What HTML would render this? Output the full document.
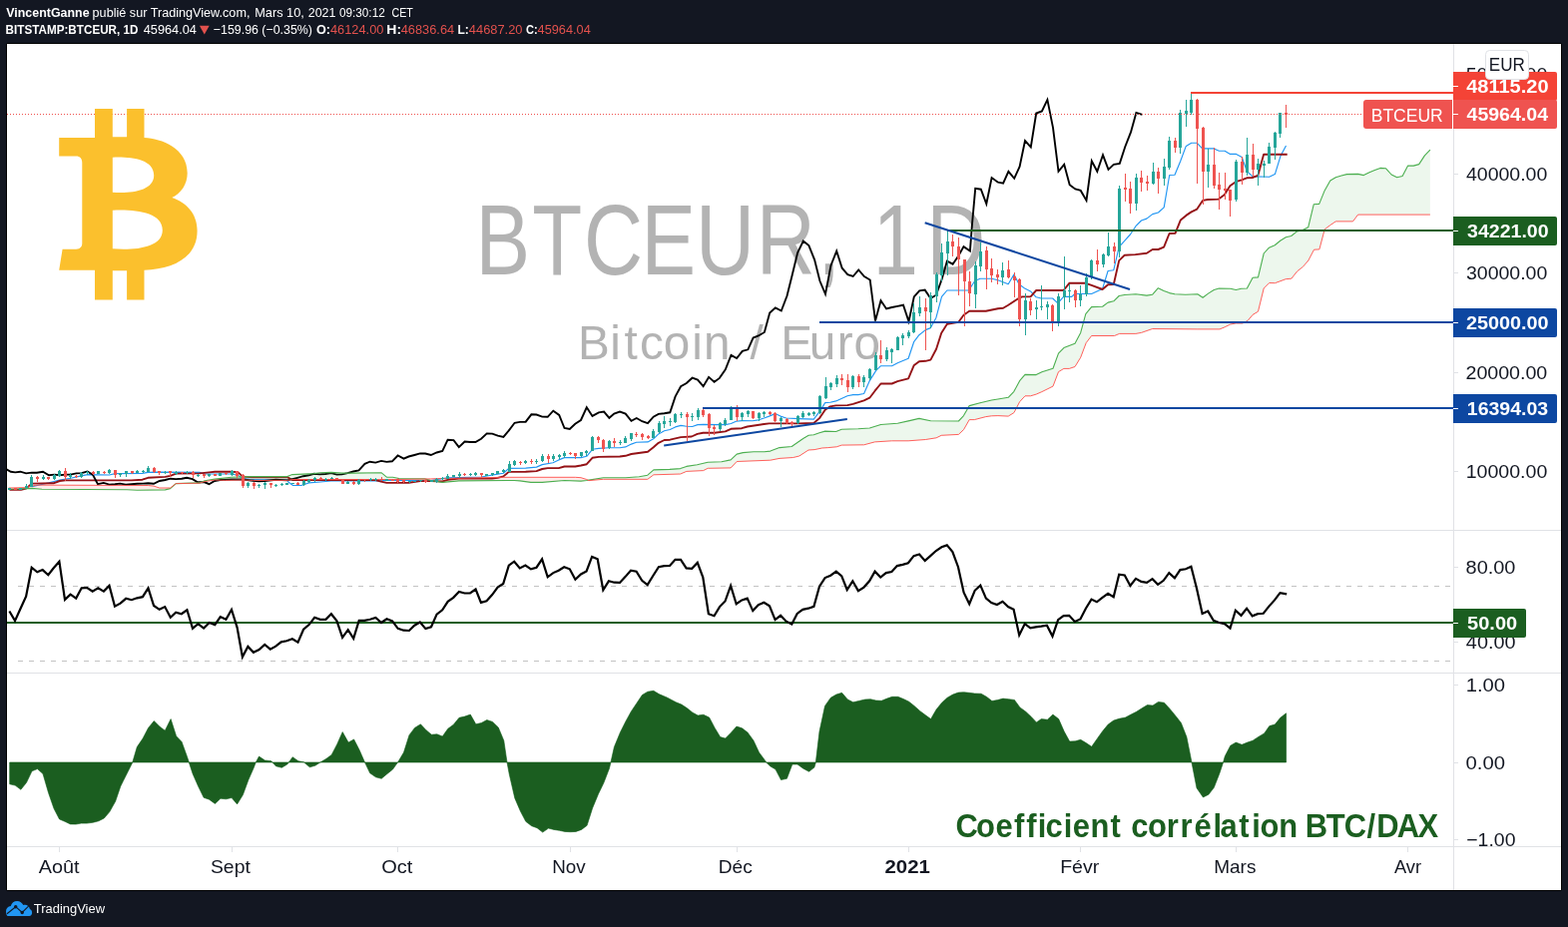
<!DOCTYPE html>
<html lang="fr">
<head>
<meta charset="utf-8">
<title>BTCEUR 1D - TradingView</title>
<style>html,body{margin:0;padding:0;background:#131722;overflow:hidden}svg{display:block}</style>
</head>
<body>
<svg width="1571" height="929" viewBox="0 0 1571 929" font-family="'Liberation Sans', sans-serif">
<defs><clipPath id="cm"><rect x="7" y="44" width="1449" height="487"/></clipPath><clipPath id="cr"><rect x="7" y="532" width="1449" height="142"/></clipPath><clipPath id="cc"><rect x="7" y="675" width="1449" height="173"/></clipPath><clipPath id="ca"><rect x="1457" y="44" width="107" height="804"/></clipPath></defs>
<rect width="1571" height="929" fill="#131722"/>
<rect x="6" y="43" width="1559" height="850" rx="2" fill="#000"/>
<rect x="7" y="44" width="1557" height="848" fill="#fff"/>
<g clip-path="url(#cm)">
<text transform="scale(0.8219,1)" x="579.9 648.9 711.9 781.7 848.0 922.1 996.7 1018.9 1063.9 1129.3" y="274.6" font-size="99.5" fill="#b3b3b3">BTCEUR, 1D</text>
<text transform="scale(0.9727,1)" x="595.2 628.5 643.1 659.0 683.4 712.8 724.8 748.9 772.7 787.2 804.1 833.6 862.2 879.4" y="359.7" font-size="49" fill="#b3b3b3">Bitcoin / Euro</text>
<polyline fill="none" stroke="#2196f3" stroke-width="1.15" stroke-linejoin="round" points="31.8,487.7 49,483.9 59.8,481 70.7,479.2 81.5,476.9 87.8,475.6 109.5,476 115.2,474.6 142.6,474.4 148.3,473.4 159.1,473.1 199.9,473.4 205.1,475 231.8,475 238.2,476.3 243.3,479.5 253.5,480.5 287.8,480.7 289.1,483.3 293.6,486.5 301.8,486.5 309.5,483.9 320.9,483 331.8,482 342.6,482 378.2,482 387.1,481.4 399.9,481.4 421,481.5 431.8,481.5 443.3,479.6 448.6,478.9 482.1,478 487.8,477 498.7,475.1 504.4,474.2 509.7,469.4 526.7,469.1 537.5,468.1 543.2,465.6 554,463.7 559.8,460.9 565.5,458.6 582,458.6 587.8,457.3 593.5,450.3 599.9,449.4 610.2,448.7 621,448.7 626.7,447.9 632.5,445.1 637.6,443.2 649,442.9 654.7,439.8 659.8,434.9 665.6,431.7 671.3,430.5 676.6,427.9 682.1,426.4 687.8,427.3 693.6,427.5 699,425.6 704.6,425.4 720.9,425.6 726.7,425.6 732.4,424.5 737.5,422.2 743.2,421.6 754,421.8 759.8,420.9 765.5,419 770.6,417.1 776.6,414.6 782,417.1 787.7,419 799.9,419.6 815.3,420.1 821,412.7 826.7,403.6 831.8,403.2 837.6,401.9 849,396.8 854.7,395.6 859.8,395.6 865.6,394.5 871.3,381.6 877.7,371.4 882.5,366.7 893.6,366.7 899.3,363.7 910.1,359.3 915.6,342.7 920.9,335.7 927.3,330.6 932.4,328.6 937.9,318.4 943.5,297.4 948.9,291 970.6,291 976.7,281.5 982,279.2 993.5,279.2 999.9,280.8 1010.2,284.7 1015.9,275.1 1021,284.7 1026.7,289.1 1032.5,291.9 1038.2,297.8 1043.3,299 1054.7,299 1059.8,303.8 1065.6,297.4 1073.8,297.4 1076.8,294.5 1093.6,294.5 1104.6,289.4 1110.1,271.5 1115.8,270.7 1121.2,247.4 1126.7,241.4 1132.4,235 1137.9,226.7 1143.5,221 1148.9,219.1 1154.7,214.6 1160.5,213 1166.2,207.9 1171.7,175.5 1177,175.2 1182.7,161.5 1188.3,146.4 1193.7,143.2 1199.1,143.2 1204.6,148.9 1216.3,148.9 1221.4,151.2 1227.1,151.2 1232.5,154.4 1238.6,154.4 1244.3,157.6 1249.4,171.8 1255.1,176.9 1271.7,177.3 1277.4,174.6 1282.9,156.6 1288.5,146"/>
<polyline fill="none" stroke="#941216" stroke-width="1.9" stroke-linejoin="round" points="9.5,490.9 21,490.9 26.1,489.6 31.8,484.6 53.5,484.3 59.8,482 65.6,481.4 131.8,481.4 142.6,480.7 148.3,478.8 165.5,477.9 170.6,476.9 176.3,474.6 199.9,474.4 209.5,473.4 215.3,472.8 231.8,472.8 238.2,473.1 243.3,477.6 253.5,478.2 287.8,478.2 292.9,481 376.3,481 381.8,482.6 387.4,483.9 399.9,483.9 409.5,483.8 421,482.1 431.8,482.1 443.3,482.5 448.6,480.8 459.8,479.6 492.9,479.6 498.7,478.9 504.4,477.4 509.7,472.9 526.7,472.8 537.5,472.1 543.2,470 548.7,469.1 559.8,469.1 565.5,467.5 576.3,467.5 582,466.5 587.8,465.2 593.5,458.8 599.9,457.9 621,457.5 626.7,456.8 632.5,455 649,452.7 654.7,448.3 659.8,443.8 665.6,441 671.3,440.7 682.1,438.1 692.9,437.5 698.7,434.9 704.4,433.7 715.8,433.7 726.7,432.4 732.4,429.8 743.2,429.2 748.9,427.5 765.5,425 770.6,424.4 799.9,424.4 815.3,424 821,419.1 826.7,410.8 831.8,407.4 837.6,406.4 849,406.1 854.7,404.9 865.6,401.3 871.3,398.7 876.6,391.7 882.5,384.5 893.6,384.5 899.3,382.2 910.1,379.4 915.6,366.3 920.9,362.2 927.3,361.8 932.4,360.6 938.1,349.7 943.2,333.8 948.9,324.8 960.4,322.8 965.5,315.8 971.2,311.8 987.8,311.8 999.9,309.2 1005.1,308.8 1010.2,305.7 1021,298.7 1024.2,297.4 1032.5,297.4 1038.2,291 1065.6,291 1071.3,283.8 1087.8,283.8 1093.6,285.9 1104.6,290 1110.1,285.3 1115.8,285 1121.2,261.1 1126.7,255.8 1137.5,255.1 1148.9,253.8 1154.7,250 1160.4,250 1166.1,247.7 1171.6,234 1177.6,233.7 1182.9,220.4 1188.4,215.9 1193.6,212.4 1199.3,209.6 1205,200.9 1210.1,200 1220.9,199.6 1226.7,195.2 1232.4,186.3 1238.1,182.2 1243.9,180.3 1249.2,178.3 1254.7,178 1260.4,175.8 1266.1,154.8 1289.7,154.8"/>
<polyline fill="none" stroke="#000" stroke-width="1.9" stroke-linejoin="miter" points="6.4,470.3 10.8,472.8 15.3,473.4 20.4,472.7 26.1,474.4 31.8,473.6 36.9,473.7 43,472.8 49,476.3 54.7,475.6 59.8,476.3 65.6,475.6 70.7,475.6 76.4,474.4 81.5,474.1 87.6,472.5 92.9,475.6 98,485.2 103.8,483.9 109.5,485.6 115.2,485.2 120.3,484.6 126,485.6 131.8,485.2 137.5,484.8 143.2,484.6 148.3,484.3 154,484.8 159.8,482 165.5,481 170.6,479.7 176.3,480.1 182,479.8 187.1,478.8 192.9,480.1 198,483.3 205.1,483.3 209.5,485.2 215,482 220.4,481 231.8,480.5 243.3,480.5 253.5,481.8 259.2,482.4 264.9,482 276.4,480.7 287.8,481.4 292.9,480.1 298,478.8 303.8,477.2 309.5,476.3 314.6,474.8 320.3,475.4 326,475 331.8,474.1 337.5,475.6 342.6,475.4 348.3,474.1 354,472.5 359.5,471.4 365.5,464.8 370.6,462.7 376.3,463.6 382,461.9 387.4,462.9 392.9,462.3 398.6,456.5 404.5,459.6 409.5,457.5 415.3,456 421,454.4 426.1,454.5 431.8,456 437.6,453.5 443.3,451.9 448.6,440.7 454.5,441.1 459.8,448.1 465.6,442.6 471,443 476.4,443 482.1,439.7 487.8,434.4 493.2,434.6 498.7,436.7 504.4,437.9 509.7,431.6 515.6,423.8 520.9,422.9 526.7,422.7 532.4,415.3 537.5,415.5 543.2,417.6 548.7,417.8 554.3,411.7 560.2,415.9 565.5,429 570.8,429.9 576.3,424.8 582,421 587.8,408.3 593.5,416.9 599.9,413.4 605.1,412.6 610.4,418.8 615.3,414.6 621,412.6 626.7,414.6 632.5,421.8 637.8,419 643.3,422.2 649,424.1 654.7,417.7 659.8,414.9 665.6,414.2 671.3,413.3 676.6,397.4 682.1,387.2 687.8,384 693.6,378.7 699,380.6 704.6,387.2 710.1,377.9 715.6,382.7 720.9,378.9 726.8,370.4 732.5,355.9 738.1,359.1 743.8,351.9 749.4,350.3 754.6,338.5 759.9,336.5 765.9,333 771.2,313.6 776.9,308.3 782.8,311.5 788.5,296.5 793.8,275.2 799.1,253.4 804.8,241.6 810.4,246.1 816.1,260.3 821.4,281.5 827,294.8 832.5,265.9 838.2,251.6 843.7,268.7 849.3,275.1 854.7,277 860.2,270.4 865.9,277 871.7,280.5 877,321.6 882.5,301.2 888.1,309.5 893.6,308 899.3,306.9 905,305.7 910.5,322.2 915.8,297.4 921.2,291.4 926.7,290.6 932.4,299 937.9,295.7 943.5,280.2 948.9,261.7 954.6,264.7 960.2,256.6 965.5,247.1 971.9,251.6 973.8,226.7 977.2,188.9 982.8,189.7 988.3,204.3 993.6,178.1 999.6,182.5 1000,182.7 1005.1,183.7 1010.4,171.8 1016.2,178.8 1021.6,167 1027,141 1032.8,147.3 1038.2,113.5 1043.9,111.4 1049.4,99.9 1055,127.9 1060.5,171.8 1066.2,164.8 1071.7,185.2 1077.3,189.4 1082.7,190.9 1088.5,200.9 1093.8,161.4 1099.3,171.8 1105,155.3 1110.5,169.9 1115.8,164.8 1121.8,163.9 1127.3,147 1133,132.4 1138.4,113 1144.5,114.9"/>
<path fill="#4caf50" fill-opacity="0.1" d="M176.7,484.5L178.7,484.5L180.7,484.4L182.7,484.4L184.7,484.3L186.7,484.3L188.7,484.2L190.7,484.2L192.7,484.1L194.7,484.1L196.7,484L198.7,484L200.7,483.6L202.7,482.7L204.7,481.9L206.7,481.5L208.7,481.2L210.7,480.8L212.7,480.5L214.7,480.2L216.7,479.9L218.7,479.7L220.7,479.5L222.7,479.2L224.7,479L226.7,478.8L228.7,478.6L230.7,478.3L232.7,478.2L234.7,478.1L236.7,478.1L238.7,478L240.7,478L242.7,478L244.7,477.9L246.7,477.8L248.7,477.7L250.7,477.7L252.7,477.6L254.7,477.6L256.7,477.6L258.7,477.6L260.7,477.6L262.7,477.6L264.7,477.6L266.7,477.6L268.7,477.6L270.7,477.6L272.7,477.6L274.7,477.6L276.7,477.6L278.7,477.6L280.7,477.6L282.7,477.6L284.7,477.6L286.7,477.6L288.7,477.2L290.7,476.5L292.7,475.7L294.7,475.6L296.7,475.5L298.7,475.4L300.7,475.3L302.7,475.2L304.7,475.1L306.7,475L308.7,474.9L310.7,474.8L312.7,474.7L314.7,474.6L316.7,474.3L318.7,474.1L320.7,473.8L322.7,473.7L324.7,473.6L326.7,473.5L328.7,473.5L330.7,473.4L332.7,473.4L334.7,473.6L336.7,473.7L338.7,473.8L340.7,474L342.7,474.1L344.7,474.1L346.7,474.1L348.7,474.1L350.7,474.1L352.7,474.1L354.7,474.1L356.7,474.1L358.7,474.1L360.7,474L362.7,474L364.7,474L366.7,473.9L368.7,473.9L370.7,473.9L372.7,473.9L374.7,473.8L376.7,473.8L378.7,473.8L380.7,473.8L382.7,474.3L384.7,475.9L386.7,477.6L388.7,478.2L390.7,478.2L392.7,478.2L394.7,478.4L396.7,478.8L398.7,479.2L400.7,479.5L402.7,479.5L404.7,479.6L406.7,479.6L408.7,479.6L410.7,479.7L412.7,479.7L414.7,479.7L416.7,479.8L418.7,479.8L420.7,479.9L422.7,479.9L424.7,479.9L424.7,480.1L422.7,480.1L420.7,480.1L418.7,480.2L416.7,480.2L414.7,480.2L412.7,480.3L410.7,480.3L408.7,480.3L406.7,480.4L404.7,480.4L402.7,480.4L400.7,480.5L398.7,480.5L396.7,480.5L394.7,480.5L392.7,480.5L390.7,480.5L388.7,480.5L386.7,480.5L384.7,480.5L382.7,480.5L380.7,480.5L378.7,480.5L376.7,480.5L374.7,480.5L372.7,480.5L370.7,480.5L368.7,480.5L366.7,480.5L364.7,480.5L362.7,480.5L360.7,480.5L358.7,480.5L356.7,480.5L354.7,480.5L352.7,480.5L350.7,480.5L348.7,480.5L346.7,480.5L344.7,480.5L342.7,480.5L340.7,480.5L338.7,480.5L336.7,480.5L334.7,480.5L332.7,480.5L330.7,480.5L328.7,480.5L326.7,480.5L324.7,480.5L322.7,480.5L320.7,480.5L318.7,480.5L316.7,480.5L314.7,480.5L312.7,480.5L310.7,480.5L308.7,480.5L306.7,480.5L304.7,480.5L302.7,480.5L300.7,480.5L298.7,480.5L296.7,480.5L294.7,480.5L292.7,480.5L290.7,480.9L288.7,481.2L286.7,481.4L284.7,481.4L282.7,481.4L280.7,481.4L278.7,481.4L276.7,481.4L274.7,481.4L272.7,481.4L270.7,481.4L268.7,481.4L266.7,481.4L264.7,481.4L262.7,481.4L260.7,481.4L258.7,481.4L256.7,481.4L254.7,481.4L252.7,481.3L250.7,481.3L248.7,481.2L246.7,481.1L244.7,481L242.7,481L240.7,481L238.7,481.1L236.7,481.1L234.7,481.2L232.7,481.2L230.7,481.3L228.7,481.3L226.7,481.3L224.7,481.3L222.7,481.3L220.7,481.2L218.7,481.1L216.7,481L214.7,481.1L212.7,481.4L210.7,481.7L208.7,482.1L206.7,482.4L204.7,482.8L202.7,483.3L200.7,483.9L198.7,484.2L196.7,484.2L194.7,484.3L192.7,484.3L190.7,484.3L188.7,484.4L186.7,484.4L184.7,484.4L182.7,484.5L180.7,484.5L178.7,484.5L176.7,484.6ZM588.7,481.3L590.7,481L592.7,480.7L594.7,480.4L596.7,480L598.7,479.7L600.7,479.4L602.7,479.1L604.7,478.8L606.7,478.8L608.7,478.8L610.7,478.8L612.7,478.8L614.7,478.8L616.7,478.8L618.7,478.8L620.7,478.8L622.7,478.8L624.7,478.8L626.7,478.8L628.7,478.7L630.7,478.5L632.7,478.3L634.7,478.2L636.7,478L638.7,477.9L640.7,477.7L642.7,477.3L644.7,477L646.7,476.6L648.7,476.2L650.7,474.6L652.7,472.8L654.7,471.1L656.7,470.8L658.7,470.8L660.7,470.7L662.7,470.6L664.7,470.6L666.7,470.5L668.7,470.5L670.7,470.4L672.7,470.3L674.7,470.1L676.7,470L678.7,469.9L680.7,469.7L682.7,469.3L684.7,468.5L686.7,467.8L688.7,467.2L690.7,466.9L692.7,466.7L694.7,466.4L696.7,466.1L698.7,465.8L700.7,465.3L702.7,464.8L704.7,464.3L706.7,463.8L708.7,463.3L710.7,463.2L712.7,463.1L714.7,463L716.7,463L718.7,462.9L720.7,462.8L722.7,462.8L724.7,462.4L726.7,462L728.7,461.6L730.7,461.2L732.7,460.3L734.7,458.4L736.7,456.5L738.7,455L740.7,454.5L742.7,454L744.7,453.6L746.7,453.4L748.7,453.3L750.7,453.2L752.7,453L754.7,452.9L756.7,452.8L758.7,452.8L760.7,452.8L762.7,452.8L764.7,452.8L766.7,452.7L768.7,452.5L770.7,452.2L772.7,451.7L774.7,451L776.7,450.2L778.7,449.4L780.7,448.7L782.7,448.4L784.7,448.2L786.7,448.1L788.7,447.9L790.7,447.7L792.7,447.5L794.7,446.4L796.7,445L798.7,443.6L800.7,442.2L802.7,440.8L804.7,439.5L806.7,438.3L808.7,437.2L810.7,436.2L812.7,436L814.7,435.7L816.7,435.2L818.7,434.5L820.7,433.9L822.7,433.3L824.7,432.7L826.7,432.1L828.7,432.2L830.7,432.2L832.7,432.3L834.7,432.4L836.7,432.5L838.7,432.1L840.7,431.3L842.7,430.5L844.7,430.3L846.7,430.2L848.7,430.1L850.7,430L852.7,430L854.7,429.9L856.7,429.8L858.7,429.7L860.7,429.6L862.7,429.5L864.7,429.4L866.7,429.3L868.7,429.2L870.7,429.1L872.7,428.6L874.7,428L876.7,427.3L878.7,426.7L880.7,426.1L882.7,425.5L884.7,425.3L886.7,425.2L888.7,425L890.7,424.9L892.7,424.7L894.7,424.6L896.7,424.4L898.7,424.3L900.7,423.9L902.7,423.5L904.7,423.1L906.7,422.6L908.7,422.2L910.7,421.8L912.7,421.3L914.7,420.8L916.7,420.4L918.7,419.9L920.7,419.4L922.7,419.7L924.7,420.1L926.7,420.5L928.7,420.9L930.7,421.3L932.7,421.7L934.7,421.7L936.7,421.7L938.7,421.7L940.7,421.8L942.7,421.8L944.7,421.8L946.7,421.9L948.7,421.9L950.7,421.9L952.7,421.9L954.7,422L956.7,422L958.7,422L960.7,421.7L962.7,419.6L964.7,417.4L966.7,414.5L968.7,411L970.7,407.6L972.7,406.3L974.7,405.7L976.7,405.2L978.7,404.7L980.7,404.2L982.7,403.7L984.7,403.2L986.7,402.7L988.7,402.2L990.7,401.7L992.7,401.2L994.7,400.8L996.7,400.5L998.7,400.2L1000.7,399.9L1002.7,399.5L1004.7,399.2L1006.7,398.9L1008.7,398.5L1010.7,397.8L1012.7,395.7L1014.7,393.6L1016.7,390.9L1018.7,387.2L1020.7,383.5L1022.7,380.5L1024.7,378.1L1026.7,375.7L1028.7,375.4L1030.7,375.5L1032.7,375.5L1034.7,375.6L1036.7,375.6L1038.7,375.4L1040.7,374.4L1042.7,373.4L1044.7,372.6L1046.7,371.9L1048.7,371.3L1050.7,370.7L1052.7,370L1054.7,369.4L1056.7,364.6L1058.7,359L1060.7,353.9L1062.7,351.9L1064.7,349.9L1066.7,348.3L1068.7,347.5L1070.7,346.7L1072.7,345.9L1074.7,345.1L1076.7,344.3L1078.7,341L1080.7,337.2L1082.7,333.5L1084.7,326.2L1086.7,318.8L1088.7,313.5L1090.7,311.1L1092.7,308.6L1094.7,307.5L1096.7,307.5L1098.7,307.4L1100.7,307.3L1102.7,307.3L1104.7,307.1L1106.7,305.7L1108.7,304.2L1110.7,303L1112.7,302.5L1114.7,302.1L1116.7,301L1118.7,299L1120.7,297L1122.7,296.2L1124.7,295.8L1126.7,295.5L1128.7,295.4L1130.7,295.2L1132.7,295.1L1134.7,295L1136.7,294.9L1138.7,294.9L1140.7,295.2L1142.7,295.4L1144.7,295.6L1146.7,295.9L1148.7,296.1L1150.7,295.8L1152.7,295.5L1154.7,295.2L1156.7,292.9L1158.7,290.7L1160.7,288.9L1162.7,289.8L1164.7,290.7L1166.7,291.6L1168.7,292.4L1170.7,293.2L1172.7,293.8L1174.7,294.3L1176.7,294.8L1178.7,294.9L1180.7,295L1182.7,295L1184.7,295.1L1186.7,295.2L1188.7,295.2L1190.7,295.1L1192.7,295.1L1194.7,295L1196.7,294.9L1198.7,294.9L1200.7,295.4L1202.7,296.7L1204.7,297.9L1206.7,297L1208.7,295.5L1210.7,294L1212.7,292.8L1214.7,291.5L1216.7,290.4L1218.7,289.8L1220.7,289.2L1222.7,289L1224.7,289.1L1226.7,289.1L1228.7,289.2L1230.7,289.2L1232.7,289.3L1234.7,289.7L1236.7,290.2L1238.7,290.4L1240.7,290L1242.7,289.5L1244.7,289.2L1246.7,289.1L1248.7,289L1250.7,286.5L1252.7,282.7L1254.7,279L1256.7,278.1L1258.7,278L1260.7,276.9L1262.7,268.6L1264.7,260.2L1266.7,253.4L1268.7,251.2L1270.7,249L1272.7,247.7L1274.7,246.8L1276.7,245.9L1278.7,244.4L1280.7,242.8L1282.7,241.2L1284.7,240L1286.7,238.7L1288.7,237.7L1290.7,237.2L1292.7,236.7L1294.7,235.7L1296.7,234.1L1298.7,232.5L1300.7,231.6L1302.7,231.2L1304.7,230.8L1306.7,229.9L1308.7,228.8L1310.7,227.7L1312.7,219.4L1314.7,211.2L1316.7,204.7L1318.7,204.6L1320.7,204.5L1322.7,202.1L1324.7,197.1L1326.7,192.2L1328.7,188.3L1330.7,184.8L1332.7,181.2L1334.7,179.9L1336.7,178.6L1338.7,177.6L1340.7,177L1342.7,176.4L1344.7,175.9L1346.7,175.3L1348.7,174.8L1350.7,174.6L1352.7,174.6L1354.7,174.5L1356.7,174.5L1358.7,174.4L1360.7,174.4L1362.7,174.8L1364.7,175.3L1366.7,175.5L1368.7,174.5L1370.7,173.5L1372.7,172.6L1374.7,171.7L1376.7,170.8L1378.7,170L1380.7,169.2L1382.7,168.4L1384.7,168.5L1386.7,168.6L1388.7,168.9L1390.7,171.2L1392.7,173.5L1394.7,175.3L1396.7,176.3L1398.7,177.3L1400.7,177.6L1402.7,177.1L1404.7,176.6L1406.7,173.5L1408.7,169.7L1410.7,166.1L1412.7,166.1L1414.7,166.1L1416.7,166L1418.7,165.4L1420.7,164.8L1422.7,163L1424.7,160L1426.7,157L1428.7,154.6L1430.7,152.5L1432.7,150.4L1432.9,150.2L1432.9,215.1L1432.7,215.1L1430.7,215.1L1428.7,215.1L1426.7,215.1L1424.7,215.1L1422.7,215.1L1420.7,215.1L1418.7,215.1L1416.7,215.1L1414.7,215.1L1412.7,215.1L1410.7,215.1L1408.7,215.1L1406.7,215.1L1404.7,215.1L1402.7,215.1L1400.7,215.1L1398.7,215.1L1396.7,215.1L1394.7,215.1L1392.7,215.1L1390.7,215.1L1388.7,215.1L1386.7,215.1L1384.7,215.1L1382.7,215.1L1380.7,215.1L1378.7,215.1L1376.7,215.1L1374.7,215.1L1372.7,215.1L1370.7,215.1L1368.7,215.1L1366.7,215.1L1364.7,215.1L1362.7,215.1L1360.7,215.1L1358.7,217.6L1356.7,220.2L1354.7,221.9L1352.7,221.9L1350.7,221.9L1348.7,221.9L1346.7,221.9L1344.7,221.9L1342.7,221.9L1340.7,221.9L1338.7,221.9L1336.7,222.9L1334.7,224.3L1332.7,225.6L1330.7,227.1L1328.7,228.6L1326.7,231.7L1324.7,239.4L1322.7,247.1L1320.7,250L1318.7,250.1L1316.7,250.2L1314.7,253.6L1312.7,257.5L1310.7,261.2L1308.7,263.5L1306.7,265.9L1304.7,267.9L1302.7,269.5L1300.7,271L1298.7,273.1L1296.7,275.7L1294.7,278.2L1292.7,279.3L1290.7,279.5L1288.7,279.7L1286.7,280.3L1284.7,281L1282.7,281.7L1280.7,282.5L1278.7,283.2L1276.7,283.7L1274.7,283.6L1272.7,283.6L1270.7,284.5L1268.7,286.5L1266.7,288.5L1264.7,295L1262.7,303.1L1260.7,311.2L1258.7,313.2L1256.7,314.4L1254.7,315.9L1252.7,318.3L1250.7,320.7L1248.7,322.1L1246.7,323.1L1244.7,324L1242.7,324L1240.7,324L1238.7,324L1236.7,324.3L1234.7,324.7L1232.7,325.1L1230.7,326.1L1228.7,327.1L1226.7,328L1224.7,328.8L1222.7,329.6L1220.7,329.9L1218.7,329.9L1216.7,329.9L1214.7,329.9L1212.7,329.9L1210.7,329.9L1208.7,329.9L1206.7,329.9L1204.7,329.9L1202.7,329.9L1200.7,329.9L1198.7,329.9L1196.7,329.9L1194.7,329.9L1192.7,329.9L1190.7,329.9L1188.7,329.8L1186.7,329.8L1184.7,329.8L1182.7,329.8L1180.7,329.8L1178.7,329.8L1176.7,329.7L1174.7,329.7L1172.7,329.7L1170.7,329.7L1168.7,329.7L1166.7,329.6L1164.7,329.6L1162.7,329.6L1160.7,329.6L1158.7,329.6L1156.7,329.6L1154.7,329.5L1152.7,330.2L1150.7,330.9L1148.7,331.6L1146.7,332.3L1144.7,332.9L1142.7,333.5L1140.7,333.9L1138.7,334.2L1136.7,334.4L1134.7,334.4L1132.7,334.4L1130.7,334.4L1128.7,334.4L1126.7,334.4L1124.7,334.4L1122.7,334.4L1120.7,334.8L1118.7,335.6L1116.7,336.5L1114.7,336.5L1112.7,336.5L1110.7,336.5L1108.7,336.5L1106.7,336.5L1104.7,336.5L1102.7,336.5L1100.7,336.5L1098.7,336.5L1096.7,336.5L1094.7,336.5L1092.7,337.7L1090.7,340.3L1088.7,342.9L1086.7,347.6L1084.7,353L1082.7,358.3L1080.7,361.5L1078.7,364.8L1076.7,367.6L1074.7,368.3L1072.7,368.9L1070.7,369.4L1068.7,369.4L1066.7,369.4L1064.7,370.1L1062.7,371.3L1060.7,372.4L1058.7,377.3L1056.7,382.6L1054.7,387.2L1052.7,388.2L1050.7,389.2L1048.7,390.2L1046.7,391.2L1044.7,392.2L1042.7,393.1L1040.7,394L1038.7,394.9L1036.7,395.5L1034.7,396.1L1032.7,396.7L1030.7,396.8L1028.7,396.8L1026.7,397.1L1024.7,399.3L1022.7,401.6L1020.7,404.5L1018.7,408.3L1016.7,412.1L1014.7,414.3L1012.7,415.6L1010.7,416.8L1008.7,417.1L1006.7,416.9L1004.7,416.8L1002.7,416.7L1000.7,416.6L998.7,416.6L996.7,416.7L994.7,416.8L992.7,416.9L990.7,417.2L988.7,417.5L986.7,417.9L984.7,418.4L982.7,418.9L980.7,419.5L978.7,420L976.7,420.5L974.7,420.6L972.7,420.6L970.7,421.6L968.7,425L966.7,428.5L964.7,431.3L962.7,433.2L960.7,435.1L958.7,435.5L956.7,435.6L954.7,435.7L952.7,435.8L950.7,435.9L948.7,436L946.7,436.1L944.7,436.2L942.7,436.6L940.7,437.6L938.7,438.6L936.7,439.1L934.7,439.4L932.7,439.7L930.7,440L928.7,440.3L926.7,440.5L924.7,440.7L922.7,440.8L920.7,441L918.7,441.1L916.7,441.3L914.7,441.4L912.7,441.6L910.7,441.7L908.7,441.8L906.7,441.8L904.7,441.8L902.7,441.8L900.7,441.8L898.7,441.8L896.7,441.8L894.7,441.8L892.7,441.8L890.7,442L888.7,442.1L886.7,442.2L884.7,442.4L882.7,442.5L880.7,442.6L878.7,442.8L876.7,442.9L874.7,443.4L872.7,443.9L870.7,444.5L868.7,445L866.7,445.5L864.7,445.9L862.7,445.9L860.7,445.9L858.7,445.9L856.7,446L854.7,446L852.7,446L850.7,446L848.7,446L846.7,446.1L844.7,446.1L842.7,446.3L840.7,446.9L838.7,447.6L836.7,447.9L834.7,448.1L832.7,448.3L830.7,448.5L828.7,448.7L826.7,448.8L824.7,449L822.7,449.2L820.7,449.6L818.7,450L816.7,450.4L814.7,450.7L812.7,450.8L810.7,451L808.7,451.8L806.7,453.1L804.7,454.4L802.7,455.7L800.7,457L798.7,457.5L796.7,458L794.7,458.5L792.7,458.6L790.7,458.8L788.7,458.9L786.7,459L784.7,459.2L782.7,459.3L780.7,459.5L778.7,459.9L776.7,460.3L774.7,460.7L772.7,461.1L770.7,461.3L768.7,461.4L766.7,461.4L764.7,461.5L762.7,461.6L760.7,461.6L758.7,461.7L756.7,461.8L754.7,461.9L752.7,461.9L750.7,462L748.7,462.1L746.7,462.2L744.7,462.2L742.7,462.3L740.7,462.4L738.7,462.4L736.7,464L734.7,466.1L732.7,468.2L730.7,468.9L728.7,469L726.7,469L724.7,469L722.7,469.1L720.7,469.1L718.7,469.2L716.7,469.2L714.7,469.2L712.7,469.3L710.7,469.3L708.7,469.6L706.7,470.6L704.7,471.6L702.7,471.7L700.7,471.8L698.7,471.9L696.7,472L694.7,472.1L692.7,472.2L690.7,472.3L688.7,472.4L686.7,472.9L684.7,473.7L682.7,474.6L680.7,475L678.7,475.1L676.7,475.1L674.7,475.2L672.7,475.3L670.7,475.3L668.7,475.4L666.7,475.4L664.7,475.5L662.7,475.5L660.7,475.6L658.7,475.7L656.7,475.7L654.7,475.9L652.7,477.4L650.7,478.9L648.7,480.3L646.7,480.3L644.7,480.3L642.7,480.3L640.7,480.3L638.7,480.3L636.7,480.3L634.7,480.3L632.7,480.3L630.7,480.3L628.7,480.3L626.7,480.3L624.7,480.3L622.7,480.3L620.7,480.3L618.7,480.3L616.7,480.3L614.7,480.3L612.7,480.3L610.7,480.3L608.7,480.3L606.7,480.3L604.7,480.3L602.7,480.5L600.7,480.7L598.7,480.8L596.7,481L594.7,481.2L592.7,481.3L590.7,481.5L588.7,480.9Z"/>
<path fill="#f44336" fill-opacity="0.1" d="M8.7,490.3L10.7,490.2L12.7,490.1L14.7,490.1L16.7,490L18.7,489.9L20.7,489.8L22.7,489.7L24.7,489.7L26.7,489.6L28.7,489.5L30.7,489.4L32.7,489.5L34.7,489.6L36.7,489.8L38.7,490L40.7,490.2L42.7,490.3L44.7,490.3L46.7,490.3L48.7,490.3L50.7,490.3L52.7,490.3L54.7,490.3L56.7,490.4L58.7,490.4L60.7,490.4L62.7,490.4L64.7,490.4L66.7,490.4L68.7,490.4L70.7,490.4L72.7,490.4L74.7,490.4L76.7,490.4L78.7,490.5L80.7,490.5L82.7,490.5L84.7,490.5L86.7,490.5L88.7,490.5L90.7,490.5L92.7,490.5L94.7,490.5L96.7,490.5L98.7,490.5L100.7,490.5L102.7,490.6L104.7,490.6L106.7,490.6L108.7,490.6L110.7,490.6L112.7,490.6L114.7,490.6L116.7,490.6L118.7,490.6L120.7,490.6L122.7,490.6L124.7,490.7L126.7,490.7L128.7,490.8L130.7,490.9L132.7,491L134.7,491.1L136.7,491.3L138.7,491.3L140.7,491.3L142.7,491.2L144.7,491.2L146.7,491.2L148.7,491.2L150.7,491.1L152.7,491.1L154.7,491.1L156.7,491L158.7,491L160.7,491L162.7,491L164.7,490.9L166.7,490.6L168.7,490.1L170.7,489.6L172.7,487.8L174.7,486L176.7,484.5L176.7,484.6L174.7,485.8L172.7,487.4L170.7,488.9L168.7,489L166.7,489L164.7,489L162.7,489L160.7,489L158.7,488.7L156.7,488L154.7,487.3L152.7,487L150.7,486.7L148.7,486.5L146.7,486.5L144.7,486.5L142.7,486.4L140.7,486.4L138.7,486.4L136.7,486.4L134.7,486.4L132.7,486.4L130.7,486.4L128.7,486.4L126.7,486.4L124.7,486.4L122.7,486.4L120.7,486.4L118.7,486.4L116.7,486.4L114.7,486.4L112.7,486.3L110.7,486.3L108.7,486.3L106.7,486.3L104.7,486.3L102.7,486.3L100.7,486.3L98.7,486.3L96.7,486.3L94.7,486.3L92.7,486.3L90.7,486.3L88.7,486.3L86.7,486.3L84.7,486.2L82.7,486.2L80.7,486.2L78.7,486.2L76.7,486.2L74.7,486.2L72.7,486.2L70.7,486.2L68.7,486.2L66.7,486.2L64.7,486.2L62.7,486.2L60.7,486.2L58.7,486.2L56.7,486.2L54.7,486.1L52.7,486.1L50.7,486.1L48.7,486.1L46.7,486.1L44.7,486.1L42.7,486.1L40.7,486.1L38.7,486.1L36.7,486.1L34.7,486.5L32.7,486.9L30.7,487.4L28.7,487.9L26.7,488.5L24.7,488.7L22.7,488.7L20.7,488.7L18.7,488.8L16.7,488.8L14.7,488.9L12.7,488.9L10.7,489L8.7,489ZM424.7,479.9L426.7,480.2L428.7,480.7L430.7,481.2L432.7,481.6L434.7,482L436.7,482.3L438.7,482.6L440.7,483L442.7,483.3L444.7,483.3L446.7,483.1L448.7,482.9L450.7,482.7L452.7,482.5L454.7,482.3L456.7,482.1L458.7,482L460.7,481.9L462.7,481.8L464.7,481.8L466.7,481.8L468.7,481.8L470.7,481.8L472.7,481.8L474.7,481.8L476.7,481.7L478.7,481.7L480.7,481.7L482.7,481.7L484.7,481.7L486.7,481.7L488.7,481.7L490.7,481.6L492.7,481.6L494.7,481.6L496.7,481.6L498.7,481.6L500.7,481.6L502.7,481.6L504.7,481.5L506.7,481.5L508.7,481.5L510.7,481.5L512.7,481.5L514.7,481.5L516.7,481.6L518.7,481.7L520.7,481.8L522.7,482.1L524.7,482.4L526.7,482.7L528.7,483L530.7,483.2L532.7,483.4L534.7,483.4L536.7,483.4L538.7,483.4L540.7,483.4L542.7,483.4L544.7,483.3L546.7,483.1L548.7,482.9L550.7,482.7L552.7,482.6L554.7,482.4L556.7,482.2L558.7,482.1L560.7,481.9L562.7,481.7L564.7,481.5L566.7,481.5L568.7,481.6L570.7,481.7L572.7,481.8L574.7,481.8L576.7,481.9L578.7,482L580.7,482.1L582.7,482L584.7,481.8L586.7,481.6L588.7,481.3L588.7,480.9L586.7,480.1L584.7,479.5L582.7,478.9L580.7,478.6L578.7,478.5L576.7,478.3L574.7,478.3L572.7,478.3L570.7,478.3L568.7,478.3L566.7,478.3L564.7,478.3L562.7,478.3L560.7,478.3L558.7,478.3L556.7,478.3L554.7,478.3L552.7,478.3L550.7,478.3L548.7,478.3L546.7,478.3L544.7,478.3L542.7,478.3L540.7,478.3L538.7,478.3L536.7,478.3L534.7,478.3L532.7,478.3L530.7,478.3L528.7,478.3L526.7,478.3L524.7,478.3L522.7,478.3L520.7,478.3L518.7,478.3L516.7,478.3L514.7,478.3L512.7,478.3L510.7,478.3L508.7,478.3L506.7,478.3L504.7,478.3L502.7,478.3L500.7,478.4L498.7,478.4L496.7,478.4L494.7,478.5L492.7,478.5L490.7,478.6L488.7,478.6L486.7,478.6L484.7,478.7L482.7,478.7L480.7,478.7L478.7,478.8L476.7,478.8L474.7,478.9L472.7,478.9L470.7,478.9L468.7,479L466.7,479L464.7,479.1L462.7,479.1L460.7,479.1L458.7,479.2L456.7,479.2L454.7,479.2L452.7,479.3L450.7,479.3L448.7,479.4L446.7,479.4L444.7,479.4L442.7,479.5L440.7,479.5L438.7,479.6L436.7,479.7L434.7,479.8L432.7,479.9L430.7,480L428.7,480L426.7,480L424.7,480.1Z"/>
<polyline fill="none" stroke="#4caf50" stroke-width="1.1" stroke-linejoin="round" points="8.7,490.3 31.8,489.4 42,490.3 127.3,490.7 137.5,491.3 165.5,490.9 170.6,489.6 176.3,484.6 199.9,483.9 205.1,481.8 215.3,480.1 231.8,478.2 243.3,477.9 253.5,477.6 287.8,477.6 292.9,475.6 314.6,474.6 320.9,473.7 331.8,473.4 342.6,474.1 354,474.1 382,473.7 387.4,478.2 393.5,478.2 399.9,479.5 425.5,479.9 431.8,481.5 443.3,483.4 459.8,481.9 515.2,481.5 520.9,481.9 531.8,483.4 543.2,483.4 565.5,481.5 582,482.1 587.8,481.5 590,481.1 604.5,478.8 626.7,478.8 640.4,477.7 648.8,476.2 654.9,470.9 671,470.4 681.7,469.6 687.8,467.4 698.5,465.8 709.2,463.2 722.9,462.8 732.1,460.9 738.2,455.1 744.3,453.6 755,452.8 765.7,452.8 771.8,452.1 781,448.6 793.2,447.5 800,442.7 805.1,439.2 810.2,436.3 815.3,435.7 821,433.8 826.7,432.1 837.6,432.5 843.3,430.3 859.8,429.7 871.3,429 882.5,425.5 899.3,424.2 910.1,421.9 920.9,419.4 932.4,421.7 960.4,422 965.5,416.6 971.2,406.6 982,403.8 993.5,401 999.9,400 1010.2,398.3 1015.9,392.3 1021.6,381.7 1027,375.4 1038.2,375.6 1043.9,372.8 1055,369.3 1060.5,354.1 1065.9,348.6 1077,344.2 1082.7,333.4 1087.8,314.6 1093.6,307.6 1104.6,307.2 1110.1,303.1 1115.8,301.8 1121.2,296.5 1126.7,295.5 1137.9,294.8 1148.9,296.1 1154.7,295.2 1160.4,288.7 1166.1,291.4 1171.6,293.6 1177,294.8 1187.8,295.2 1199.9,294.8 1205.1,298.2 1210.6,294.1 1216.3,290.5 1221.4,289 1232.8,289.3 1238.3,290.5 1243.7,289.3 1249.4,289 1255.1,278.2 1260.5,277.9 1266.2,254 1271.5,248.2 1277.2,245.7 1282.7,241.2 1288.3,237.8 1293.7,236.5 1299.5,231.9 1305.2,230.6 1310.7,227.8 1316.3,204.7 1321.7,204.4 1327.2,190.9 1332.8,181 1338.3,177.7 1344,176 1349.5,174.6 1360.6,174.4 1366.3,175.6 1372,172.8 1377.4,170.6 1382.9,168.4 1388.6,168.8 1394.1,175 1399.7,177.8 1405.1,176.5 1410.6,166.1 1416.2,166.1 1421.7,164.6 1427.4,155.9 1432.9,150.2"/>
<polyline fill="none" stroke="#ff4f4a" stroke-opacity="0.9" stroke-width="1" stroke-linejoin="round" points="8.7,489 26.1,488.6 31.8,487.1 36.9,486.1 148.3,486.5 154,487.1 159.8,489 170.6,489 176.3,484.6 199.9,484.2 205.1,482.6 215.3,481 225.5,481.4 243.3,481 253.5,481.4 287.8,481.4 292.9,480.5 399.9,480.5 431.8,479.9 438.2,479.6 504.4,478.3 576.3,478.3 582,478.7 587.8,480.5 590,481.6 604.5,480.3 648.8,480.3 654.9,475.8 681.7,475 687.8,472.4 704.6,471.6 709.2,469.3 732.1,468.9 738.2,462.5 771.8,461.2 781,459.4 794.7,458.5 800.8,457 810,451 816.1,450.6 823.7,449 829.8,448.6 838.2,447.8 843.3,446.1 865.6,445.8 876.4,442.9 893.6,441.8 910.1,441.8 927.3,440.5 938.1,438.8 943.2,436.3 960.4,435.4 965.5,430.6 971.2,420.6 976.3,420.6 982,419.1 987.8,417.6 993.5,416.8 999.9,416.6 1010.2,417.1 1015.9,413.6 1021.6,402.7 1027,396.8 1032.5,396.8 1038.2,395.1 1043.9,392.6 1055,387.1 1060.5,372.6 1065.9,369.4 1071.3,369.4 1077,367.5 1082.7,358.2 1088.2,343.6 1093.6,336.5 1116.5,336.5 1121.6,334.4 1137.9,334.4 1143.5,333.4 1154.7,329.5 1199.9,329.9 1222,329.9 1227.1,327.8 1232.8,325 1238.3,324 1244.9,324 1250,321.5 1255.1,315.4 1260.5,312.2 1266.2,289 1271.7,283.5 1277.4,283.7 1288.2,279.7 1293.9,279.2 1299.7,271.8 1305.4,267.4 1310.9,261 1316.5,250.2 1321.9,249.9 1327.2,229.8 1332.8,225.6 1338.3,221.9 1355.5,221.9 1360.6,215.1 1432.9,215.1"/>
<path stroke="#26a69a" stroke-width="1" fill="none" d="M9.5,489V491M20.5,489V491M26.5,485V490M31.5,476V488M43.5,476V481M54.5,475V481M59.5,471V478M70.5,474V480M81.5,473V479M87.5,472V476M98.5,472V475M109.5,470V475M120.5,474V478M126.5,472V478M137.5,471V474M143.5,471V474M148.5,467V473M165.5,472V475M176.5,472V476M187.5,472V475M198.5,475V478M209.5,475V478M220.5,474V477M232.5,471V477M248.5,483V489M259.5,485V489M265.5,483V490M276.5,485V488M282.5,484V487M287.5,484V486M293.5,484V485M304.5,481V487M309.5,480V484M315.5,478V483M326.5,479V482M332.5,478V480M348.5,482V485M359.5,480V486M371.5,479V482M376.5,479V482M387.5,480V482M410.5,482V484M415.5,482V483M421.5,481V483M432.5,481V483M437.5,479V484M443.5,478V481M448.5,475V480M454.5,476V478M460.5,473V479M471.5,474V477M476.5,473V477M487.5,475V477M493.5,474V477M498.5,472V475M504.5,470V474M510.5,462V473M515.5,461V467M526.5,461V465M537.5,460V465M543.5,455V463M554.5,455V462M560.5,455V460M565.5,452V459M582.5,453V458M587.5,451V457M593.5,437V452M610.5,441V450M621.5,441V446M626.5,437V444M632.5,434V442M654.5,430V439M660.5,422V434M665.5,417V429M671.5,419V427M676.5,414V424M682.5,413V419M693.5,414V422M699.5,409V421M721.5,423V432M726.5,419V427M732.5,407V421M743.5,413V422M749.5,411V418M760.5,413V422M765.5,412V418M782.5,418V428M799.5,416V425M804.5,412V419M810.5,413V417M815.5,412V417M821.5,396V415M827.5,378V400M832.5,383V391M838.5,376V388M854.5,376V390M865.5,376V388M871.5,369V381M877.5,353V371M888.5,348V362M893.5,349V364M899.5,337V351M904.5,334V346M910.5,331V339M915.5,304V334M921.5,297V317M932.5,293V329M938.5,273V303M943.5,244V282M949.5,232V276M977.5,262V309M982.5,243V272M1004.5,263V286M1027.5,294V336M1038.5,301V320M1043.5,286V311M1049.5,302V320M1060.5,294V327M1066.5,257V310M1071.5,285V303M1082.5,286V307M1088.5,274V297M1093.5,260V280M1105.5,254V268M1110.5,233V257M1121.5,186V258M1138.5,174V211M1155.5,163V185M1166.5,159V186M1171.5,137V170M1182.5,110V154M1188.5,100V127M1193.5,93V115M1210.5,149V188M1238.5,160V202M1249.5,138V176M1260.5,159V186M1266.5,161V178M1271.5,143V164M1277.5,132V160M1282.5,113V138"/>
<path stroke="#ef5350" stroke-width="1" fill="none" d="M15.5,489V491M37.5,477V483M48.5,478V481M65.5,469V482M76.5,476V479M93.5,472V476M104.5,472V475M115.5,471V479M132.5,472V475M154.5,468V474M159.5,472V476M170.5,472V478M182.5,473V475M193.5,472V479M204.5,475V479M215.5,475V477M226.5,474V476M237.5,472V479M243.5,475V489M254.5,483V490M271.5,484V489M298.5,483V486M321.5,478V481M337.5,479V481M343.5,480V485M354.5,482V486M365.5,480V483M382.5,478V482M393.5,480V482M398.5,479V484M404.5,481V484M426.5,480V484M465.5,474V477M482.5,474V478M521.5,462V466M532.5,460V465M549.5,455V464M571.5,453V456M576.5,454V460M599.5,437V444M604.5,440V453M615.5,439V448M637.5,433V438M643.5,434V441M649.5,436V440M688.5,413V442M704.5,410V418M710.5,414V437M715.5,426V436M738.5,406V422M754.5,412V420M771.5,412V416M776.5,413V423M788.5,419V425M793.5,422V427M843.5,375V386M849.5,375V393M860.5,375V388M882.5,341V364M927.5,299V351M954.5,235V257M960.5,238V296M966.5,260V327M971.5,272V307M988.5,247V290M993.5,259V283M999.5,270V285M1010.5,261V279M1016.5,273V298M1021.5,279V327M1032.5,299V316M1054.5,305V332M1077.5,290V308M1099.5,250V272M1116.5,243V264M1127.5,174V202M1132.5,182V214M1143.5,171V192M1149.5,176V191M1160.5,168V194M1177.5,138V153M1199.5,99V184M1205.5,127V205M1216.5,148V189M1221.5,173V210M1227.5,173V200M1232.5,190V217M1244.5,157V185M1255.5,144V177M1288.5,105V128"/>
<path fill="#26a69a" d="M8,489h3v2h-3zM19,489h3v2h-3zM25,487h3v2h-3zM30,478h3v10h-3zM42,478h3v2h-3zM53,476h3v4h-3zM58,472h3v5h-3zM69,476h3v2h-3zM80,474h3v4h-3zM86,473h3v1h-3zM97,472h3v3h-3zM108,471h3v3h-3zM119,474h3v2h-3zM125,472h3v3h-3zM136,472h3v2h-3zM142,472h3v1h-3zM147,469h3v4h-3zM164,473h3v1h-3zM175,473h3v2h-3zM186,473h3v1h-3zM197,476h3v1h-3zM208,475h3v2h-3zM219,474h3v3h-3zM231,472h3v4h-3zM247,484h3v3h-3zM258,486h3v1h-3zM264,484h3v2h-3zM275,486h3v1h-3zM281,485h3v1h-3zM286,484h3v2h-3zM292,484h3v1h-3zM303,482h3v4h-3zM308,481h3v2h-3zM314,479h3v2h-3zM325,480h3v1h-3zM331,479h3v1h-3zM347,483h3v2h-3zM358,481h3v4h-3zM370,480h3v1h-3zM375,480h3v1h-3zM386,480h3v2h-3zM409,482h3v1h-3zM414,482h3v1h-3zM420,481h3v1h-3zM431,481h3v2h-3zM436,480h3v3h-3zM442,479h3v1h-3zM447,477h3v3h-3zM453,476h3v2h-3zM459,475h3v2h-3zM470,475h3v1h-3zM475,474h3v2h-3zM486,475h3v2h-3zM492,474h3v2h-3zM497,472h3v3h-3zM503,471h3v2h-3zM509,465h3v8h-3zM514,462h3v4h-3zM525,462h3v2h-3zM536,462h3v1h-3zM542,457h3v5h-3zM553,457h3v3h-3zM559,456h3v2h-3zM564,454h3v3h-3zM581,453h3v4h-3zM586,452h3v2h-3zM592,438h3v14h-3zM609,442h3v7h-3zM620,443h3v1h-3zM625,439h3v5h-3zM631,434h3v6h-3zM653,432h3v7h-3zM659,424h3v9h-3zM664,422h3v3h-3zM670,422h3v1h-3zM675,415h3v8h-3zM681,415h3v1h-3zM692,417h3v1h-3zM698,411h3v7h-3zM720,424h3v6h-3zM725,421h3v4h-3zM731,409h3v12h-3zM742,414h3v4h-3zM748,412h3v3h-3zM759,414h3v5h-3zM764,413h3v2h-3zM781,419h3v3h-3zM798,417h3v7h-3zM803,414h3v4h-3zM809,414h3v2h-3zM814,413h3v2h-3zM820,397h3v17h-3zM826,387h3v12h-3zM831,384h3v4h-3zM837,379h3v6h-3zM853,377h3v11h-3zM864,378h3v5h-3zM870,370h3v9h-3zM876,356h3v15h-3zM887,351h3v9h-3zM892,350h3v3h-3zM898,338h3v13h-3zM903,336h3v3h-3zM909,333h3v4h-3zM914,313h3v20h-3zM920,308h3v6h-3zM931,296h3v17h-3zM937,275h3v22h-3zM942,253h3v23h-3zM948,242h3v12h-3zM976,266h3v29h-3zM981,252h3v15h-3zM1003,271h3v7h-3zM1026,301h3v19h-3zM1037,308h3v2h-3zM1042,307h3v1h-3zM1048,305h3v3h-3zM1059,297h3v25h-3zM1065,291h3v7h-3zM1070,291h3v1h-3zM1081,295h3v6h-3zM1087,278h3v17h-3zM1092,261h3v17h-3zM1104,255h3v10h-3zM1109,247h3v9h-3zM1120,189h3v63h-3zM1137,178h3v26h-3zM1154,172h3v12h-3zM1165,167h3v12h-3zM1170,141h3v27h-3zM1181,113h3v35h-3zM1187,111h3v3h-3zM1192,100h3v13h-3zM1209,165h3v7h-3zM1237,162h3v38h-3zM1248,155h3v18h-3zM1259,164h3v6h-3zM1265,164h3v2h-3zM1270,147h3v17h-3zM1276,133h3v15h-3zM1281,113h3v21h-3z"/>
<path fill="#ef5350" d="M14,489h3v2h-3zM36,478h3v2h-3zM47,478h3v2h-3zM64,472h3v6h-3zM75,477h3v1h-3zM92,473h3v2h-3zM103,473h3v1h-3zM114,471h3v5h-3zM131,472h3v2h-3zM153,469h3v4h-3zM158,472h3v2h-3zM169,472h3v2h-3zM181,473h3v1h-3zM192,473h3v3h-3zM203,475h3v2h-3zM214,475h3v2h-3zM225,474h3v1h-3zM236,472h3v5h-3zM242,476h3v11h-3zM253,484h3v3h-3zM270,484h3v2h-3zM297,484h3v2h-3zM320,479h3v2h-3zM336,479h3v2h-3zM342,481h3v4h-3zM353,483h3v2h-3zM364,480h3v1h-3zM381,480h3v1h-3zM392,481h3v1h-3zM397,480h3v3h-3zM403,481h3v2h-3zM425,481h3v2h-3zM464,475h3v1h-3zM481,474h3v2h-3zM520,463h3v1h-3zM531,462h3v1h-3zM548,457h3v3h-3zM570,454h3v1h-3zM575,454h3v3h-3zM598,438h3v3h-3zM603,441h3v9h-3zM614,442h3v2h-3zM636,435h3v1h-3zM642,435h3v3h-3zM648,437h3v2h-3zM687,415h3v3h-3zM703,411h3v5h-3zM709,415h3v14h-3zM714,428h3v2h-3zM737,409h3v9h-3zM753,412h3v7h-3zM770,413h3v2h-3zM775,414h3v8h-3zM787,420h3v4h-3zM792,423h3v2h-3zM842,379h3v2h-3zM848,381h3v7h-3zM859,377h3v6h-3zM881,356h3v4h-3zM926,308h3v4h-3zM953,242h3v5h-3zM959,247h3v13h-3zM965,260h3v22h-3zM970,282h3v12h-3zM987,251h3v19h-3zM992,269h3v7h-3zM998,275h3v3h-3zM1009,270h3v8h-3zM1015,277h3v4h-3zM1020,280h3v40h-3zM1031,302h3v9h-3zM1053,306h3v16h-3zM1076,291h3v10h-3zM1098,261h3v4h-3zM1115,247h3v5h-3zM1126,188h3v2h-3zM1131,189h3v15h-3zM1142,178h3v5h-3zM1148,182h3v2h-3zM1159,172h3v7h-3zM1176,141h3v7h-3zM1198,100h3v29h-3zM1204,128h3v44h-3zM1215,165h3v21h-3zM1220,185h3v5h-3zM1226,189h3v2h-3zM1231,190h3v11h-3zM1243,162h3v11h-3zM1254,155h3v15h-3zM1287,113h3v2h-3z"/>
<g stroke-width="2" fill="none">
<line x1="949" y1="231" x2="1456" y2="231" stroke="#1b5e20"/>
<line x1="821" y1="323" x2="1456" y2="323" stroke="#0d47a1"/>
<line x1="704" y1="409" x2="1456" y2="409" stroke="#0d47a1"/>
<line x1="1193" y1="93" x2="1456" y2="93" stroke="#f44336"/>
<line x1="665.2" y1="446.4" x2="848.8" y2="420.1" stroke="#0d47a1"/>
<line x1="926.7" y1="223.2" x2="1132" y2="290" stroke="#0d47a1"/>
</g>
<line x1="7" y1="114.5" x2="1456" y2="114.5" stroke="#ef5350" stroke-width="1" stroke-dasharray="1 2"/>
<path fill="#fbc02d" fill-rule="evenodd" d="M59.2,138H95V109H112.8V137.3H127.1V109H144.5V138C162.1,138.9 187.7,148.6 187.7,173.5C187.7,184.8 181.3,193.8 172.3,197.9C187,202.9 197.6,214.2 197.6,231.2C197.6,258.3 173.4,269.6 144.5,270.7V300.6H127.1V271.2H112.8V300.6H95V270.7H59.2L62.6,249.7H76.2C80.7,249.7 82.3,247 82.3,243.6V163.3C82.3,159.2 80.3,156.5 76.2,156.5H59.2ZM112.8,157.7V192.7C130.5,194.1 154.2,191.6 154.2,175.8C154.2,159.2 130.5,157 112.8,157.7ZM112.8,210.8V249.3C135,251.1 162.8,248.1 162.8,230.7C162.8,212.6 135,209.7 112.8,210.8Z"/>
</g>
<g clip-path="url(#cr)">
<line x1="18" y1="587.5" x2="1456" y2="587.5" stroke="#c3c3c3" stroke-width="1" stroke-dasharray="5 6"/>
<line x1="18" y1="662.5" x2="1456" y2="662.5" stroke="#c3c3c3" stroke-width="1" stroke-dasharray="5 6"/>
<line x1="7" y1="624" x2="1456" y2="624" stroke="#1b5e20" stroke-width="2"/>
<polyline fill="none" stroke="#000" stroke-width="2.2" stroke-linejoin="miter" points="9.4,612.5 15,622.1 20.6,609.7 26.1,597.7 31.7,568.7 37.3,573.3 42.7,571.1 48.3,576.2 53.9,569 59.4,562.7 65,600.9 70.6,595.6 76.2,599.6 81.7,589.3 87.3,589 92.7,592.6 98.3,589.3 103.9,592.6 109.5,587 115,607.6 120.6,604.6 126.2,599.8 131.8,601.2 137.3,599.3 142.9,598.2 148.5,589.3 154.1,607 159.7,610.8 165.2,608.1 170.8,618.8 176.2,613.7 181.8,615.2 187.4,611.3 193,629.9 198.5,625.1 204.1,629.6 209.7,624 215.3,626.1 220.8,618.1 226.4,620.8 232,610.9 237.6,628.8 242.9,658.3 248.4,647.9 254,653.8 259.6,651.1 265.2,646 270.8,650.6 276.3,647.6 281.7,643.4 287.3,642.3 292.9,640.3 298.5,643.6 304.1,630.7 309.6,626.1 315.2,618.8 320.8,620.8 326.4,620.8 331.9,615.2 337.5,622.4 343.1,638.8 348.7,631.2 354.2,639.9 359.7,621.9 365.2,621.9 370.8,620.8 376.4,618.9 382,624 387.5,620.3 393.1,622.4 398.7,629.9 404.3,631.7 409.9,632 415.3,626.7 420.8,623.5 426.4,630.1 432,628.3 437.6,615.6 443.2,611.3 448.7,602.8 454.3,598.8 459.9,592.9 465.5,594.5 471,594.5 476.6,590.5 481.9,603.8 487.5,602.2 493.1,596.1 498.6,588.6 504.2,585 509.8,566.6 515.2,562.7 520.8,569.4 526.4,566.6 531.9,570.3 537.5,568.7 543.1,560.3 548.7,578.3 554.3,574.1 559.7,571.7 565.2,568.2 570.8,570.3 576.4,580.7 582,575.4 587.6,572.5 593.1,557.9 598.7,560.3 604.3,591.3 609.9,582.3 615.4,583.7 621,583.9 626.4,578.1 632,571.7 637.6,572.7 643.2,581.8 648.7,586.1 654.3,577 659.9,568.2 665.5,567.1 671,567 676.5,560.8 682,560.8 687.6,569.4 693.2,569.8 698.8,563.9 704.3,578.6 709.9,615.2 715.5,617.2 721,608.1 726.5,602.5 732.1,587 737.7,605.2 743.3,601.4 748.7,599.6 754.3,612.1 759.8,606.2 765.4,603.8 771,607.3 776.6,621.1 782.1,616.8 787.7,622.7 793.3,625.6 798.7,614.9 804.3,610.9 809.9,609.7 815.4,607.8 821,587.7 826.6,579.1 832.2,576.7 837.8,572.7 843.3,577.3 848.7,591 854.3,582.3 859.9,592.1 865.5,588.6 871.1,582.3 876.6,572.7 882.2,578.6 887.8,574.1 893.4,573 898.8,567.1 904.4,565.9 909.9,564.3 915.5,557.1 921.1,555.5 926.7,561.9 932.2,557.1 937.8,552 943.4,548.3 948.8,546.4 954.4,553.1 960,568.2 965.6,593.7 971.2,605.2 976.7,591.8 982.3,586.6 987.9,599.6 993.3,604.1 998.9,606 1004.5,602.8 1010,608.1 1015.6,610.8 1021.2,636.4 1026.8,625.1 1032.3,629.3 1037.8,628.3 1043.3,627.7 1048.9,626.7 1054.5,637.6 1060.1,621.1 1065.6,617.2 1071.2,616.8 1076.8,622.9 1082.4,620.5 1087.9,609.7 1093.5,600.6 1098.9,603.3 1104.5,598.8 1110.1,594.9 1115.7,598.2 1121.2,575.7 1126.8,576.5 1132.4,587 1138,579.9 1143.4,582.9 1149,583.9 1154.6,580.2 1160.1,585.8 1165.7,581.8 1171.3,574.1 1176.9,579.4 1182.4,571.1 1188,570.3 1193.4,567.8 1199,589.8 1204.6,614.9 1210.2,612.4 1215.8,621.9 1221.4,624 1226.9,625.1 1232.5,629.6 1237.9,611.7 1243.5,616.8 1249.1,609.7 1254.7,617.3 1260.2,615.2 1265.8,614.8 1271.4,607.6 1277,601.4 1282.5,594.2 1289.2,595.3"/>
</g>
<g clip-path="url(#cc)">
<path fill="#1b5e20" stroke="#0d5a16" stroke-width="0.6" d="M9.7,764L9.7,785.8L15.2,787.1L20.9,791.3L26.5,784.3L32,772.8L37.5,770.6L43,775.5L48.5,794.4L54,810.3L59.5,820.9L65,823.3L70.5,825.9L76,826L81.4,825.1L86.9,825.1L93.3,824.2L98.8,822.8L104.3,820L109.8,813.6L115.7,803L120.8,788L123.5,782.5L131.8,766L132.7,764.2L137.3,748.6L143.1,740L148.6,729.4L154.3,722.5L159.8,728L165.3,732.2L171.1,720.6L176.6,737.7L182.1,743.5L187.6,758.7L189.4,764.2L193.1,775.5L198.6,788L204.1,799.3L209.6,801.2L215.4,805.4L220.9,800.2L226.4,800.8L232.1,799.5L237.6,805.9L243.4,796.6L248.9,781.6L254.4,769.1L256.2,764.2L259.5,758.1L265.4,762L269.9,762.4L271.8,762.7L276.4,767.8L282.3,769.3L287.8,766L293.2,758.7L298.9,762.7L304.4,763.8L310.3,768.8L315.8,767.3L321.2,763.8L326.7,760.5L332.2,756.5L337.7,745.9L343.2,733.6L349.1,744.1L354.6,740.9L360,751.4L365.2,763.3L370.7,774.8L376.5,778.8L382.2,780.3L387.7,775.7L393.5,771.1L399,763.3L404.5,754.1L410,736.7L415.5,729.4L421.4,725.8L426.8,731.6L432.3,736.2L437.8,735.8L443.3,738L448.8,730.3L454.3,726.3L460,719.3L465.5,718.1L471.3,716.1L476.8,725.8L482.3,724.5L487.8,721.5L493.6,723.4L499.3,729L504.8,742.2L507.9,763.3L510.3,776.1L515.8,799.9L521.3,812.7L526.8,823.3L532.6,827.7L538.1,829.7L543.7,834.1L549.5,830.1L555,831.4L560.5,832.3L566,833.4L571.5,833.7L577,833.4L582.6,831.4L588.1,827.3L593.6,809.9L599.5,795.7L605,784.3L610.5,770L611.9,764.2L615.4,748.6L621.4,734L626.9,723L632.4,712.9L637.9,704.7L643.4,696.5L648.9,693.2L654.8,692.3L660.2,695.6L668.1,698.9L677.3,703.8L682.8,706L688.2,709.6L693.7,713.9L699.2,717L704.7,716.2L710.6,719L716.1,729.4L721.6,738.6L726.7,740L732.2,734.4L738,728L743.5,729.8L749,734L755,742.2L760.5,754.1L766,761.4L767.9,764.2L771.5,767.8L777,771L782.5,781.6L788.4,780.3L793.8,766L799,766L804.8,770.2L810.5,773.3L815.9,769.1L817.3,764.2L821,733.1L826.5,707.5L832.3,699.2L837.8,696.1L843.5,694.3L849.3,701L854.8,703.8L860.3,702.5L866.7,701L872.2,700.7L877.7,702L883.2,702.3L888.7,700.1L893.8,698.3L899.7,698.3L905.2,700.5L910.7,703.2L916.1,707.5L921.6,712.4L927.1,716.6L932.6,720.6L938.1,711.1L943.6,704.3L949.1,699.2L954.6,696.1L960.1,694.1L965.6,693.7L971.1,694.3L976.5,695L983,695.2L988.4,698.3L993.9,702.5L999.4,701.6L1004.9,700.1L1010.8,700.7L1016.4,701.4L1021.9,708.9L1027.8,713.3L1033.3,718.4L1038.4,723.9L1043.3,720.6L1049.4,721.2L1054.9,716.1L1060.7,720.6L1066.2,733.1L1071.7,743.1L1077.2,742.8L1082.7,741.3L1088.2,744.6L1093.7,748.3L1099.2,740.4L1104.7,732.7L1110.2,726.1L1115.7,722.1L1121.2,720.3L1127.6,719L1133.1,716.1L1138.6,713.3L1144.1,709.8L1149.5,706.5L1155,707.1L1160.5,703.4L1166.4,704.2L1171.9,710.2L1177.9,717.5L1183.4,724.5L1188.9,738.6L1192.6,756.9L1194,764.2L1199,789.8L1205.4,799L1210.9,796.2L1216.3,789.3L1221.8,775.2L1225.5,764.2L1227.3,757.8L1232.8,747.2L1238.3,744.1L1244.2,746.3L1249.7,744.1L1255.1,742.2L1261.2,738.2L1266.7,734.9L1271.8,727.6L1277.3,726.1L1282.8,719.3L1288.6,714.8L1288.6,764Z"/>
<text transform="scale(0.9321,1)" x="1027.2 1049.3 1070.2 1090.1 1103.1 1115.4 1123.8 1143.3 1153.1 1172.0 1193.5 1205.2 1215.9 1233.9 1253.8 1268.6 1283.6 1304.0 1311.6 1331.8 1345.5 1354.6 1374.5 1392.5 1403.1 1425.6 1444.8 1469.4 1479.6 1501.8 1524.0" y="838.7" font-size="33.2" font-weight="bold" fill="#1b5e20">Coefficient corrélation BTC/DAX</text>
</g>
<g fill="#e0e2e6">
<rect x="7" y="531" width="1557" height="1"/>
<rect x="7" y="674" width="1557" height="1"/>
<rect x="7" y="848" width="1557" height="1"/>
<rect x="1456" y="44" width="1" height="848"/>
<rect x="1457" y="74" width="4" height="1"/>
<rect x="1457" y="174" width="4" height="1"/>
<rect x="1457" y="273" width="4" height="1"/>
<rect x="1457" y="373" width="4" height="1"/>
<rect x="1457" y="472" width="4" height="1"/>
<rect x="1457" y="568" width="4" height="1"/>
<rect x="1457" y="643" width="4" height="1"/>
<rect x="1457" y="686" width="4" height="1"/>
<rect x="1457" y="764" width="4" height="1"/>
<rect x="1457" y="841" width="4" height="1"/>
<rect x="59" y="849" width="1" height="5"/>
<rect x="232" y="849" width="1" height="5"/>
<rect x="398" y="849" width="1" height="5"/>
<rect x="571" y="849" width="1" height="5"/>
<rect x="738" y="849" width="1" height="5"/>
<rect x="910" y="849" width="1" height="5"/>
<rect x="1082" y="849" width="1" height="5"/>
<rect x="1238" y="849" width="1" height="5"/>
<rect x="1410" y="849" width="1" height="5"/>
</g>
<g clip-path="url(#ca)">
<text x="1468.73" y="81.2" font-size="19" fill="#131722" textLength="81.54" lengthAdjust="spacingAndGlyphs">50000.00</text>
<text x="1468.99" y="181.2" font-size="19" fill="#131722" textLength="81.28" lengthAdjust="spacingAndGlyphs">40000.00</text>
<text x="1469.03" y="280.2" font-size="19" fill="#131722" textLength="81.24" lengthAdjust="spacingAndGlyphs">30000.00</text>
<text x="1468.47" y="380.2" font-size="19" fill="#131722" textLength="81.81" lengthAdjust="spacingAndGlyphs">20000.00</text>
<text x="1468.76" y="479.2" font-size="19" fill="#131722" textLength="81.51" lengthAdjust="spacingAndGlyphs">10000.00</text>
<text x="1468.61" y="575.2" font-size="19" fill="#131722" textLength="49.82" lengthAdjust="spacingAndGlyphs">80.00</text>
<text x="1468.88" y="650.2" font-size="19" fill="#131722" textLength="49.55" lengthAdjust="spacingAndGlyphs">40.00</text>
<text x="1468.70" y="693.2" font-size="19" fill="#131722" textLength="39.38" lengthAdjust="spacingAndGlyphs">1.00</text>
<text x="1468.60" y="771.2" font-size="19" fill="#131722" textLength="39.48" lengthAdjust="spacingAndGlyphs">0.00</text>
<text x="1469.28" y="848.2" font-size="19" fill="#131722" textLength="49.17" lengthAdjust="spacingAndGlyphs">−1.00</text>
</g>
<path fill="#f44336" d="M1456,72H1558q2,0 2,2V99q0,2 -2,2H1456Z"/>
<rect x="1456" y="86" width="5" height="1" fill="#fff"/>
<text x="1469.24" y="93.2" font-size="19" font-weight="bold" fill="#fff" textLength="82.30" lengthAdjust="spacingAndGlyphs">48115.20</text>
<path fill="#ef5350" d="M1456,100H1558q2,0 2,2V127q0,2 -2,2H1456Z"/>
<rect x="1456" y="114" width="5" height="1" fill="#fff"/>
<text x="1469.54" y="121.2" font-size="19" font-weight="bold" fill="#fff" textLength="81.46" lengthAdjust="spacingAndGlyphs">45964.04</text>
<path fill="#1b5e20" d="M1456,217H1558q2,0 2,2V244q0,2 -2,2H1456Z"/>
<rect x="1456" y="231" width="5" height="1" fill="#fff"/>
<text x="1470.09" y="238.2" font-size="19" font-weight="bold" fill="#fff" textLength="81.49" lengthAdjust="spacingAndGlyphs">34221.00</text>
<path fill="#0d47a1" d="M1456,309H1558q2,0 2,2V336q0,2 -2,2H1456Z"/>
<rect x="1456" y="323" width="5" height="1" fill="#fff"/>
<text x="1469.02" y="330.2" font-size="19" font-weight="bold" fill="#fff" textLength="82.56" lengthAdjust="spacingAndGlyphs">25000.00</text>
<path fill="#0d47a1" d="M1456,395H1558q2,0 2,2V422q0,2 -2,2H1456Z"/>
<rect x="1456" y="409" width="5" height="1" fill="#fff"/>
<text x="1469.82" y="416.2" font-size="19" font-weight="bold" fill="#fff" textLength="81.25" lengthAdjust="spacingAndGlyphs">16394.03</text>
<path fill="#1b5e20" d="M1456,610H1527q2,0 2,2V637q0,2 -2,2H1456Z"/>
<rect x="1456" y="624" width="5" height="1" fill="#fff"/>
<text x="1470.07" y="631.2" font-size="19" font-weight="bold" fill="#fff" textLength="50.07" lengthAdjust="spacingAndGlyphs">50.00</text>
<path fill="#ef5350" d="M1455,100H1369q-3,0 -3,3V126q0,3 3,3H1455Z"/>
<text x="1373.72" y="121.6" font-size="19" fill="#fff" textLength="71.99" lengthAdjust="spacingAndGlyphs">BTCEUR</text>
<rect x="1488.5" y="50.5" width="43" height="29" rx="4" fill="#fff" stroke="#e0e2e6"/>
<text x="1491.85" y="71" font-size="19" fill="#131722" textLength="36.03" lengthAdjust="spacingAndGlyphs">EUR</text>
<text x="38.70" y="875" font-size="19" fill="#131722" textLength="40.80" lengthAdjust="spacingAndGlyphs">Août</text>
<text x="210.98" y="875" font-size="19" fill="#131722" textLength="39.81" lengthAdjust="spacingAndGlyphs">Sept</text>
<text x="382.25" y="875" font-size="19" fill="#131722" textLength="31.12" lengthAdjust="spacingAndGlyphs">Oct</text>
<text x="553.21" y="875" font-size="19" fill="#131722" textLength="33.53" lengthAdjust="spacingAndGlyphs">Nov</text>
<text x="719.79" y="875" font-size="19" fill="#131722" textLength="34.06" lengthAdjust="spacingAndGlyphs">Déc</text>
<text x="886.50" y="875" font-size="19" font-weight="bold" fill="#131722" textLength="45.38" lengthAdjust="spacingAndGlyphs">2021</text>
<text x="1062.16" y="875" font-size="19" fill="#131722" textLength="39.10" lengthAdjust="spacingAndGlyphs">Févr</text>
<text x="1216.20" y="875" font-size="19" fill="#131722" textLength="42.23" lengthAdjust="spacingAndGlyphs">Mars</text>
<text x="1397.00" y="875" font-size="19" fill="#131722" textLength="27.11" lengthAdjust="spacingAndGlyphs">Avr</text>
<text x="6.26" y="17.4" font-size="13.2" font-weight="bold" fill="#fff" textLength="83.35" lengthAdjust="spacingAndGlyphs">VincentGanne</text>
<text x="92.58" y="17.4" font-size="13.2" fill="#fff" textLength="157.87" lengthAdjust="spacingAndGlyphs">publié sur TradingView.com,</text>
<text x="255.13" y="17.4" font-size="13.2" fill="#fff" textLength="49.74" lengthAdjust="spacingAndGlyphs">Mars 10,</text>
<text x="308.79" y="17.4" font-size="13.2" fill="#fff" textLength="27.67" lengthAdjust="spacingAndGlyphs">2021</text>
<text x="339.95" y="17.4" font-size="13.2" fill="#fff" textLength="45.78" lengthAdjust="spacingAndGlyphs">09:30:12</text>
<text x="392.49" y="17.4" font-size="13.2" fill="#fff" textLength="21.31" lengthAdjust="spacingAndGlyphs">CET</text>
<text x="5.61" y="33.9" font-size="13.2" font-weight="bold" fill="#fff" textLength="132.89" lengthAdjust="spacingAndGlyphs">BITSTAMP:BTCEUR, 1D</text>
<text x="143.76" y="33.9" font-size="13.2" fill="#fff" textLength="53.20" lengthAdjust="spacingAndGlyphs">45964.04</text>
<path fill="#e2514d" d="M199.9,25.7H209.7L204.8,34.5Z"/>
<text x="213.80" y="33.9" font-size="13.2" fill="#fff" textLength="99.18" lengthAdjust="spacingAndGlyphs">−159.96 (−0.35%)</text>
<text x="316.92" y="33.9" font-size="13.2" font-weight="bold" fill="#fff" textLength="14.02" lengthAdjust="spacingAndGlyphs">O:</text>
<text x="330.96" y="33.9" font-size="13.2" fill="#e2514d" textLength="53.44" lengthAdjust="spacingAndGlyphs">46124.00</text>
<text x="387.34" y="33.9" font-size="13.2" font-weight="bold" fill="#fff" textLength="14.77" lengthAdjust="spacingAndGlyphs">H:</text>
<text x="401.76" y="33.9" font-size="13.2" fill="#e2514d" textLength="53.40" lengthAdjust="spacingAndGlyphs">46836.64</text>
<text x="458.49" y="33.9" font-size="13.2" font-weight="bold" fill="#fff" textLength="11.30" lengthAdjust="spacingAndGlyphs">L:</text>
<text x="469.86" y="33.9" font-size="13.2" fill="#e2514d" textLength="53.65" lengthAdjust="spacingAndGlyphs">44687.20</text>
<text x="526.88" y="33.9" font-size="13.2" font-weight="bold" fill="#fff" textLength="11.72" lengthAdjust="spacingAndGlyphs">C:</text>
<text x="538.56" y="33.9" font-size="13.2" fill="#e2514d" textLength="53.30" lengthAdjust="spacingAndGlyphs">45964.04</text>
<path fill="#2196f3" d="M8,918.1C6.7,917.8 6,915.9 6,913.2C6,910.4 8,908.3 10.8,908C11.5,904.8 14.1,902.9 17.2,902.9C20,902.9 22.2,904.6 23.3,907.1C26.4,906.1 29.4,907.9 29.9,911C31.5,911.7 32.2,913.2 32.1,915.2C31.9,916.8 30.7,917.9 29.4,918.1Z"/>
<path fill="none" stroke="#131722" stroke-width="1.1" d="M7,915.8L15.7,908.7L22.2,914.5L28.6,908.1"/>
<circle cx="15.7" cy="908.7" r="1.7" fill="#131722"/>
<circle cx="22.2" cy="914.5" r="1.7" fill="#131722"/>
<text x="33.75" y="915.1" font-size="13.2" fill="#fff" textLength="71.32" lengthAdjust="spacingAndGlyphs">TradingView</text>
</svg>
</body>
</html>
